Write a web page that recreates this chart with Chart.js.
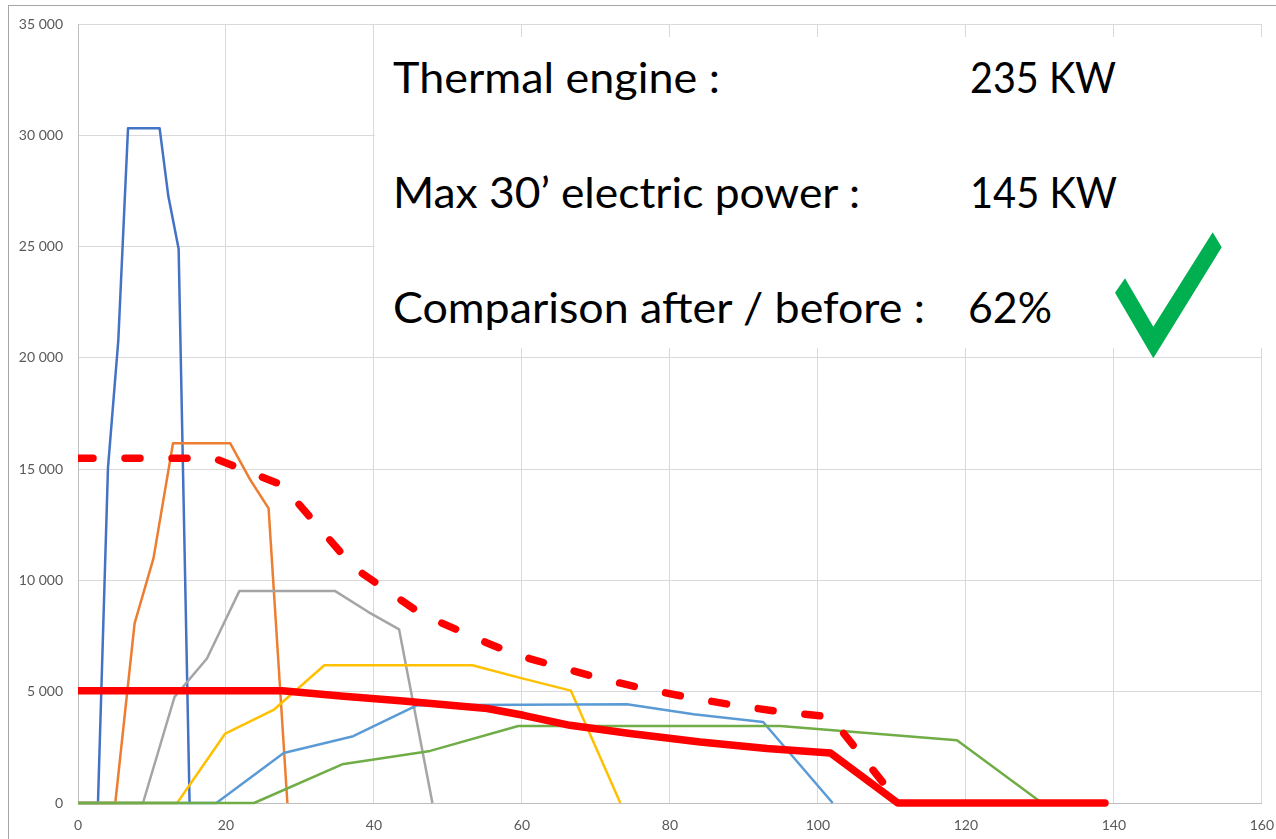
<!DOCTYPE html>
<html>
<head>
<meta charset="utf-8">
<script src="https://cdn.jsdelivr.net/npm/chart.js@4.4.1/dist/chart.umd.min.js"></script>
<style>
html,body{margin:0;padding:0;background:#fff;overflow:hidden;width:1276px;height:839px}
#wrap{position:relative;width:1276px;height:839px;overflow:hidden}
#c{position:absolute;left:0;top:0}
#ov{position:absolute;left:0;top:0}
</style>
</head>
<body>
<div id="wrap">
<canvas id="c" width="1288" height="839"></canvas>
<svg id="ov" width="1276" height="839" viewBox="0 0 1276 839">
  <rect x="8.5" y="5.5" width="1400" height="1000" fill="none" stroke="#a6a6a6" stroke-width="1"/>
  <rect x="375" y="37" width="901" height="311" fill="#ffffff"/>
  <g font-family="Lato, 'Open Sans', sans-serif" font-size="42" fill="#000000">
    <text x="393" y="93" textLength="327" lengthAdjust="spacingAndGlyphs">Thermal engine :</text>
    <text x="393" y="208" textLength="467" lengthAdjust="spacingAndGlyphs">Max 30’ electric power :</text>
    <text x="393" y="323" textLength="532" lengthAdjust="spacingAndGlyphs">Comparison after / before :</text>
    <text x="970" y="93" textLength="146" lengthAdjust="spacingAndGlyphs">235 KW</text>
    <text x="970" y="208" textLength="147" lengthAdjust="spacingAndGlyphs">145 KW</text>
    <text x="968" y="323" textLength="84" lengthAdjust="spacingAndGlyphs">62%</text>
  </g>
  <polygon points="1115,292.7 1125,278.3 1153.3,326.7 1212.7,232.3 1221.7,247.3 1153.3,358.3" fill="#00B050"/>
</svg>
</div>
<script>
// ---- data ----
const xTickLabels = ['0','20','40','60','80','100','120','140','160'];
const yTickLabels = ['0','5 000','10 000','15 000','20 000','25 000','30 000','35 000'];

const s1X = [0, 2.7, 4.05, 5.45, 6.76, 11.03, 12.2, 13.6, 15.08];
const s1Y = [0, 0, 15050, 20800, 30320, 30320, 27280, 24900, 0];

const s2X = [0, 5.04, 7.65, 10.2, 12.84, 20.58, 23.3, 25.76, 28.3];
const s2Y = [0, 0, 8070, 10990, 16160, 16160, 14510, 13240, 0];

const s3X = [0, 8.78, 13.05, 17.43, 21.8, 34.77, 39.2, 43.4, 47.9];
const s3Y = [0, 0, 4770, 6490, 9520, 9520, 8590, 7800, 0];

const s4X = [0, 13.4, 19.9, 26.5, 33.3, 53.3, 59.9, 66.6, 73.3];
const s4Y = [0, 0, 3120, 4200, 6190, 6190, 5610, 5050, 0];

const s5X = [0, 18.7, 27.8, 37.2, 45.8, 74.2, 83.2, 92.6, 102.0];
const s5Y = [0, 0, 2250, 3000, 4390, 4440, 3990, 3640, 0];

const s6X = [0, 23.8, 35.7, 47.6, 59.5, 94.9, 118.8, 130.3];
const s6Y = [0, 0, 1740, 2340, 3460, 3460, 2820, 0];

const beforeX = [0, 18.4, 27.6, 37.3, 46.4, 55.3, 57.9, 61.0, 70.1, 76.4, 82.6, 88.8, 95.1, 101.7, 111.0];
const beforeY = [15490, 15490, 14290, 10570, 8490, 7190, 6840, 6490, 5640, 5140, 4740, 4390, 4090, 3870, 0];

const afterX = [0, 27.6, 35.9, 43.55, 55.3, 60.2, 66.5, 74.6, 84.1, 93.1, 101.7, 110.8, 138.8];
const afterY = [5040, 5040, 4800, 4590, 4245, 3940, 3490, 3120, 2740, 2450, 2250, 0, 0];

const colors = ['#4472C4', '#ED7D31', '#A5A5A5', '#FFC000', '#5B9BD5', '#70AD47', '#FF0000', '#FF0000'];

function pts(xs, ys) { return xs.map((x, i) => ({ x: x, y: ys[i] })); }

const seriesList = [
  { d: pts(s1X, s1Y) }, { d: pts(s2X, s2Y) }, { d: pts(s3X, s3Y) },
  { d: pts(s4X, s4Y) }, { d: pts(s5X, s5Y) }, { d: pts(s6X, s6Y) },
  { d: pts(beforeX, beforeY), thick: true, dash: true },
  { d: pts(afterX, afterY), thick: true }
];

const datasets = seriesList.map((s, i) => ({
  data: s.d,
  showLine: true,
  borderColor: colors[i],
  backgroundColor: colors[i],
  borderWidth: s.thick ? 7.5 : 2.5,
  borderDash: s.dash ? [15, 32] : [],
  borderCapStyle: s.thick ? 'round' : 'butt',
  borderJoinStyle: 'round',
  pointRadius: 0,
  pointHoverRadius: 0,
  tension: 0,
  fill: false,
  order: 20 - i,
  clip: { left: 0, top: 10, right: 10, bottom: 10 }
}));

new Chart(document.getElementById('c'), {
  type: 'scatter',
  data: { datasets: datasets },
  options: {
    responsive: false,
    animation: false,
    events: [],
    layout: { padding: { left: 0, top: 24, right: 0, bottom: 0 } },
    plugins: { legend: { display: false }, tooltip: { enabled: false } },
    scales: {
      x: {
        type: 'linear', min: 0, max: 160,
        ticks: {
          stepSize: 20, color: '#595959', padding: 14, maxRotation: 0, autoSkip: false,
          font: { family: 'Lato', size: 14 },
          callback: (v, i) => xTickLabels[i]
        },
        grid: { color: '#d9d9d9', lineWidth: 1, drawTicks: false },
        border: { color: '#bfbfbf', width: 1 },
        afterFit: (s) => { s.height = 36; }
      },
      y: {
        type: 'linear', min: 0, max: 35000,
        ticks: {
          stepSize: 5000, color: '#595959', padding: 15, autoSkip: false,
          font: { family: 'Lato', size: 14 },
          callback: (v, i) => yTickLabels[i]
        },
        grid: { color: '#d9d9d9', lineWidth: 1, drawTicks: false },
        border: { color: '#bfbfbf', width: 1 },
        afterFit: (s) => { s.width = 78; }
      }
    }
  }
});
</script>
</body>
</html>
